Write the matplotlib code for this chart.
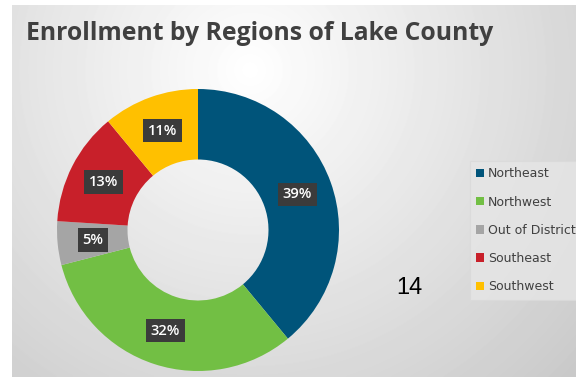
import matplotlib.pyplot as plt
import numpy as np
from matplotlib.patches import Patch

regions = ["Northeast", "Northwest", "Out of District", "Southeast", "Southwest"]
shares = [39, 32, 5, 13, 11]
colors = ["#00547a", "#72bf44", "#a5a5a5", "#c8202a", "#ffc000"]
title = "Enrollment by Regions of Lake County"
side_note = "14"

W, H = 576, 377
fig = plt.figure(figsize=(W / 100, H / 100), dpi=100)
fig.patch.set_facecolor("white")

# background panel with soft radial gradient
bg = fig.add_axes([12 / W, 0, 1 - 12 / W, (H - 5) / H])
yy, xx = np.mgrid[0:H - 5, 0:W - 12]
d = np.hypot(xx + 12 - 250, yy + 5 - 70)
shade = np.clip(1.0 - 0.19 * d / 400, 0, 1)
bg.imshow(shade, cmap="gray", vmin=0, vmax=1, aspect="auto", interpolation="bilinear")
bg.axis("off")

# donut
cx, cy, r = 198, 230, 141
ax = fig.add_axes([(cx - r) / W, (H - cy - r) / H, 2 * r / W, 2 * r / H])
wedges, _, autotexts = ax.pie(
    shares, colors=colors, startangle=90, counterclock=False,
    radius=1, wedgeprops=dict(width=0.5, edgecolor="none"),
    autopct=lambda p: f"{p:.0f}%", pctdistance=0.75,
    textprops=dict(color="white", fontsize=10.5, fontweight="semibold", family="Open Sans"))
for t in autotexts:
    t.set_bbox(dict(boxstyle="square,pad=0.32", facecolor="#3b3b3b", edgecolor="none"))
ax.set_xlim(-1, 1)
ax.set_ylim(-1, 1)
ax.axis("off")

fig.text(26 / W, 1 - 33 / H, title, ha="left", va="center", fontsize=17.8,
         fontweight="bold", color="#404040", family="Open Sans")

fig.text(409 / W, 1 - 288 / H, side_note, ha="center", va="center",
         fontsize=17, color="black", family="Liberation Sans")

handles = [Patch(facecolor=c, edgecolor="none") for c in colors]
leg = fig.legend(handles, regions, loc="upper left",
                 bbox_to_anchor=(470 / W, 1 - 161 / H), frameon=True,
                 fancybox=False, fontsize=9, handlelength=0.65, handleheight=0.65,
                 handletextpad=0.3, labelspacing=1.22, borderpad=0.5,
                 borderaxespad=0)
leg.get_frame().set_facecolor("#e6e6e6")
leg.get_frame().set_edgecolor("#dadada")
leg.get_frame().set_linewidth(0.8)
for t in leg.get_texts():
    t.set_color("#404040")

fig.savefig("out.png", dpi=100)
